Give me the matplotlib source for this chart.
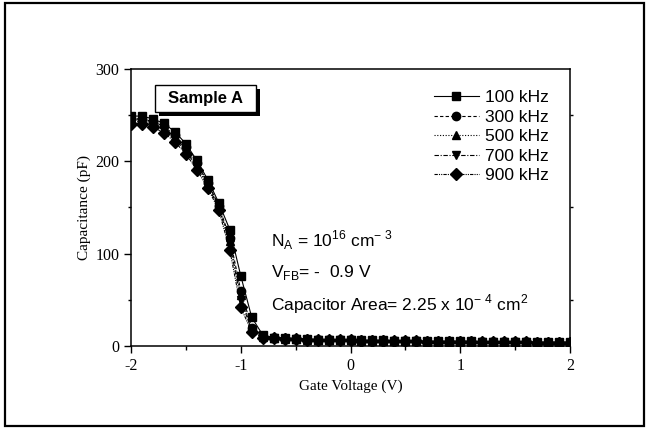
import matplotlib
matplotlib.use("Agg")
import matplotlib.pyplot as plt
import matplotlib.patheffects as pe
from matplotlib.patches import Rectangle

voltage = [-2.0, -1.9, -1.8, -1.7, -1.6, -1.5, -1.4, -1.3, -1.2, -1.1, -1.0,
           -0.9, -0.8, -0.7, -0.6, -0.5, -0.4, -0.3, -0.2, -0.1, 0.0,
           0.1, 0.2, 0.3, 0.4, 0.5, 0.6, 0.7, 0.8, 0.9, 1.0,
           1.1, 1.2, 1.3, 1.4, 1.5, 1.6, 1.7, 1.8, 1.9, 2.0]

tail = [9, 8.5, 8, 7.5, 7, 7, 6.5, 6.5, 6, 6, 6, 5.5, 5.5, 5.5,
        5, 5, 5, 5, 5, 4.5, 4.5, 4.5, 4.5, 4.5, 4, 4, 4, 4]
tail_low = [8.5, 8, 7.5, 7, 6.5, 6.5, 6, 6, 5.5, 5.5, 5.5, 5, 5, 5,
            4.5, 4.5, 4.5, 4.5, 4.5, 4, 4, 4, 4, 4, 3.5, 3.5, 3.5, 3.5]

cap_100k = [249, 249, 246, 241, 232, 219, 201, 180, 155, 126, 76, 31, 12] + tail
cap_300k = [246, 246, 243, 238, 228, 215, 198, 177, 152, 117, 60, 20, 11] + tail
cap_500k = [245, 245, 242, 236, 226, 213, 196, 175, 151, 114, 55, 18, 10] + tail_low
cap_700k = [243, 243, 240, 234, 224, 211, 194, 173, 150, 111, 50, 17, 10] + tail_low
cap_900k = [240, 240, 237, 231, 221, 208, 191, 171, 147, 104, 42, 15, 9] + tail_low

labels = ["100 kHz", "300 kHz", "500 kHz", "700 kHz", "900 kHz"]
series = [cap_100k, cap_300k, cap_500k, cap_700k, cap_900k]
markers = ["s", "o", "^", "v", "D"]
styles = ["-", (0, (3, 2)), (0, (1, 1.5)), (0, (4, 1.5, 1, 1.5)), (0, (3, 1, 1, 1, 1, 1))]

serif = "Liberation Serif"
sans = "Liberation Sans"
plt.rcParams["mathtext.fontset"] = "custom"
plt.rcParams["mathtext.rm"] = sans
plt.rcParams["axes.unicode_minus"] = False

fig = plt.figure(figsize=(6.47, 4.28), dpi=100)
ax = fig.add_axes([0.2025, 0.1916, 0.6785, 0.6472])

fig.patches.append(Rectangle((0.008, 0.005), 0.988, 0.989, transform=fig.transFigure,
                             fill=False, edgecolor="black", linewidth=1.6))

for lab, vals, mk, ls in zip(labels, series, markers, styles):
    ax.plot(voltage, vals, color="black", linestyle=ls, linewidth=0.8,
            marker=mk, markersize=6, label=lab)

ax.set_xlim(-2, 2)
ax.set_ylim(0, 300)
ax.set_xticks([-2, -1, 0, 1, 2])
ax.set_xticks([-1.5, -0.5, 0.5, 1.5], minor=True)
ax.set_yticks([0, 100, 200, 300])
ax.set_yticks([50, 150, 250], minor=True)
ax.tick_params(which="major", direction="out", length=5, width=1, labelsize=11.5)
ax.tick_params(which="minor", direction="out", length=3, width=1)
ax.tick_params(axis="y", which="minor", right=True, length=2.5)
for t in ax.get_xticklabels() + ax.get_yticklabels():
    t.set_fontfamily(serif)
for s in ax.spines.values():
    s.set_linewidth(1.1)

ax.set_xlabel("Gate Voltage (V)", fontfamily=serif, fontsize=11, labelpad=4)
ax.set_ylabel("Capacitance (pF)", fontfamily=serif, fontsize=11, labelpad=3)

leg = ax.legend(loc="upper left", bbox_to_anchor=(0.67, 0.955), frameon=False,
                prop={"family": sans, "size": 12.5}, handlelength=2.6,
                handletextpad=0.35, labelspacing=0.25, borderpad=0)

box = Rectangle((0.055, 0.845), 0.23, 0.097, transform=ax.transAxes,
                facecolor="white", edgecolor="black", linewidth=1.0, zorder=5)
box.set_path_effects([
    pe.SimplePatchShadow(offset=(3, -3), shadow_rgbFace="black", alpha=1),
    pe.Normal(),
])
ax.add_patch(box)
ax.text(0.17, 0.893, "Sample A", transform=ax.transAxes, ha="center", va="center",
        fontfamily=sans, fontsize=12, fontweight="bold", zorder=6)

ax.text(0.32, 0.383, r"N$_\mathregular{A}$ = 10$^\mathregular{16}$ cm$^\mathregular{-\ 3}$",
        transform=ax.transAxes, va="center", fontfamily=sans, fontsize=12.5)
ax.text(0.32, 0.267, r"V$_\mathregular{FB}$= -  0.9 V",
        transform=ax.transAxes, va="center", fontfamily=sans, fontsize=12.5)
ax.text(0.32, 0.152, r"Capacitor Area= 2.25 x 10$^\mathregular{-\ 4}$ cm$^\mathregular{2}$",
        transform=ax.transAxes, va="center", fontfamily=sans, fontsize=12.5)

fig.savefig("out.png", dpi=100)
